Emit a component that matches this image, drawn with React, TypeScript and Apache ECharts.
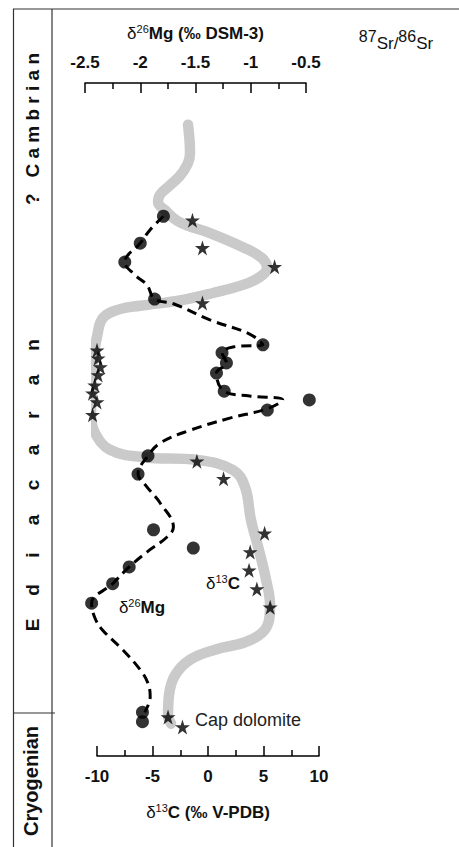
import React, { useEffect, useRef } from "react";
import * as echarts from "echarts";

// δ13C smoothed trend [δ13C ‰, stratigraphic height]
const carbonCurve: [number, number][] = [
  [-1.8, 93.8], [-1.62, 89.6], [-2.25, 86.8], [-3.42, 84.8], [-4.32, 83.4], [-4.5, 82.3],
  [-3.87, 81.1], [-2.52, 79.3], [0.18, 77.7], [3.15, 75.6], [4.86, 74.0], [5.32, 72.5],
  [4.68, 71.2], [3.15, 70.0], [0.45, 68.8], [-2.52, 67.7], [-6.13, 66.9], [-7.93, 66.4],
  [-9.46, 65.1], [-10.0, 62.3], [-10.36, 58.8], [-10.54, 54.4], [-10.54, 50.7], [-10.18, 48.0],
  [-8.83, 45.5], [-5.86, 44.4], [-0.99, 44.0], [2.25, 42.5], [3.33, 40.0], [3.87, 35.1],
  [4.59, 30.6], [5.23, 26.2], [5.59, 22.4], [5.5, 20.2], [4.86, 18.3], [3.33, 16.9],
  [0.63, 15.8], [-1.62, 14.3], [-2.97, 12.0], [-3.51, 9.1], [-3.6, 6.1], [-3.33, 4.8],
];

// δ13C measurements (stars)
const carbonPoints: [number, number][] = [
  [-1.4, 79.6], [-0.5, 75.5], [6.0, 72.7], [-0.5, 67.3],
  [-10.0, 60.3], [-9.9, 59.1], [-9.7, 57.8], [-9.9, 56.6], [-10.2, 55.1], [-10.4, 53.9],
  [-10.0, 52.6], [-10.4, 50.7], [-1.0, 43.8], [1.4, 41.2], [5.1, 33.1], [3.8, 30.3],
  [3.7, 27.6], [4.4, 24.8], [5.6, 22.1], [-3.6, 5.8], [-2.3, 4.3],
];

// δ26Mg trend (dashed)
const magnesiumCurve: [number, number][] = [
  [-1.79, 80.2], [-1.91, 78.2], [-2.0, 76.2], [-2.14, 73.4], [-2.05, 71.5], [-1.94, 70.0],
  [-1.87, 67.9], [-1.7, 67.2], [-1.37, 64.8], [-1.01, 62.7], [-0.89, 61.1], [-1.15, 60.8],
  [-1.26, 59.9], [-1.22, 58.4], [-1.31, 56.9], [-1.24, 54.2], [-1.01, 53.5], [-0.71, 52.9],
  [-0.85, 51.6], [-1.19, 50.2], [-1.55, 48.4], [-1.82, 46.5], [-1.93, 44.6], [-2.02, 41.9],
  [-1.94, 40.0], [-1.82, 37.6], [-1.7, 34.0], [-1.76, 32.5], [-1.94, 30.3], [-2.1, 28.1],
  [-2.25, 25.6], [-2.44, 22.7], [-2.41, 20.5], [-2.34, 18.7], [-2.16, 15.8], [-2.0, 12.8],
  [-1.93, 10.8], [-1.91, 8.8], [-1.96, 6.5],
];

// δ26Mg measurements (circles)
const magnesiumPoints: [number, number][] = [
  [-1.79, 80.2], [-2.0, 76.2], [-2.14, 73.4], [-1.87, 67.9], [-0.89, 61.1], [-1.26, 59.9],
  [-1.22, 58.4], [-1.31, 56.9], [-1.24, 54.2], [-0.47, 52.9], [-0.85, 51.4], [-1.93, 44.6],
  [-2.02, 41.9], [-1.88, 33.6], [-1.52, 30.9], [-2.1, 28.1], [-2.25, 25.6], [-2.44, 22.7],
  [-1.98, 6.5], [-1.98, 5.1],
];

// 87Sr/86Sr values and their heights
const srLabels = ["0.7083", "0.7085", "07080", "0.7076", "0.7073", "0.7073"];
const srHeights = [80.2, 64.3, 48.4, 38.6, 26.3, 10.1];
const srColumnX = 15.05; // label column on δ13C scale

const FONT = "'Liberation Sans', Arial, sans-serif";
const STAR =
  "path://M50,0 L61.23,34.55 L97.55,34.55 L68.17,55.9 L79.39,90.45 L50,69.1 L20.61,90.45 L31.83,55.9 L2.45,34.55 L38.77,34.55 Z";

const GRID_TOP = 83;
const GRID_H = 673;

export default function App() {
  const ref = useRef<HTMLDivElement>(null);
  useEffect(() => {
    if (!ref.current) return;
    const chart = echarts.init(ref.current, undefined, { renderer: "svg" });

    const axisCommon = (min: number, max: number, interval: number) => ({
      type: "value" as const,
      min,
      max,
      interval,
      axisLine: { show: true, onZero: false, lineStyle: { color: "#000", width: 1.5 } },
      axisTick: { show: true, inside: true, length: 10, lineStyle: { color: "#000", width: 1.5 } },
      minorTick: { show: true, splitNumber: 2, length: 6, lineStyle: { color: "#000", width: 1.5 } },
      splitLine: { show: false },
      minorSplitLine: { show: false },
      axisLabel: { fontSize: 17, fontWeight: "bold" as const, color: "#111", fontFamily: FONT, margin: 12 },
      nameLocation: "middle" as const,
    });

    const nameRich = {
      d: { fontSize: 17, fontFamily: FONT, color: "#111", lineHeight: 20 },
      s: { fontSize: 11, fontFamily: FONT, color: "#111", verticalAlign: "top", lineHeight: 12 },
      b: { fontSize: 17, fontFamily: FONT, fontWeight: "bold", color: "#111", lineHeight: 20 },
    };

    const ediacaran = "Ediacaran".split("");
    const ediTop = 345;
    const ediBottom = 625;
    const ediLetters = ediacaran.map((ch, i) => ({
      type: "text",
      x: 32,
      y: ediBottom - (i * (ediBottom - ediTop)) / (ediacaran.length - 1),
      rotation: Math.PI / 2,
      style: { text: ch, font: `bold 19px ${FONT}`, fill: "#111", align: "center", verticalAlign: "middle" },
    }));

    const line = (x1: number, y1: number, x2: number, y2: number) => ({
      type: "line",
      shape: { x1, y1, x2, y2 },
      style: { stroke: "#333", lineWidth: 1.2 },
    });

    const smallRich = {
      d: { fontSize: 17, fontFamily: FONT, fill: "#111", lineHeight: 20 },
      s: { fontSize: 11, fontFamily: FONT, fill: "#111", verticalAlign: "top", lineHeight: 12 },
      b: { fontSize: 17, fontFamily: FONT, fontWeight: "bold", fill: "#111", lineHeight: 20 },
    };

    chart.setOption({
      animation: false,
      backgroundColor: "#fff",
      grid: [
        { left: 85, top: GRID_TOP, width: 221, height: GRID_H },
        { left: 97, top: GRID_TOP, width: 222, height: GRID_H },
      ],
      xAxis: [
        {
          ...axisCommon(-2.5, -0.5, 0.5),
          gridIndex: 0,
          position: "top",
          name: "{d|δ}{s|26}{b|Mg (‰ DSM-3)}",
          nameGap: 40,
          nameTextStyle: { rich: nameRich },
        },
        {
          ...axisCommon(-10, 10, 5),
          gridIndex: 1,
          position: "bottom",
          name: "{d|δ}{s|13}{b|C (‰ V-PDB)}",
          nameGap: 46,
          nameTextStyle: { rich: nameRich },
        },
      ],
      yAxis: [
        { type: "value", gridIndex: 0, min: 0, max: 100, show: false },
        { type: "value", gridIndex: 1, min: 0, max: 100, show: false },
      ],
      series: [
        {
          type: "line",
          xAxisIndex: 1,
          yAxisIndex: 1,
          data: carbonCurve,
          smooth: 0.4,
          symbol: "none",
          clip: false,
          lineStyle: { color: "#cacaca", width: 10.5, cap: "round", join: "round" },
          z: 1,
        },
        {
          type: "line",
          xAxisIndex: 0,
          yAxisIndex: 0,
          data: magnesiumCurve,
          smooth: 0.4,
          symbol: "none",
          clip: false,
          lineStyle: { color: "#000", width: 3, type: [10, 6] },
          z: 2,
        },
        {
          type: "scatter",
          xAxisIndex: 0,
          yAxisIndex: 0,
          data: magnesiumPoints,
          symbol: "circle",
          symbolSize: 13,
          clip: false,
          itemStyle: { color: "#000" },
          z: 3,
        },
        {
          type: "scatter",
          xAxisIndex: 1,
          yAxisIndex: 1,
          data: carbonPoints,
          symbol: STAR,
          symbolSize: 15,
          clip: false,
          itemStyle: { color: "#000" },
          z: 3,
        },
        {
          type: "scatter",
          xAxisIndex: 1,
          yAxisIndex: 1,
          data: srLabels.map((t, i) => ({ value: [srColumnX, srHeights[i]], name: t })),
          symbolSize: 1,
          clip: false,
          itemStyle: { opacity: 0 },
          label: {
            show: true,
            position: "right",
            distance: 0,
            formatter: (p: any) => p.name,
            fontFamily: FONT,
            fontSize: 17,
            fontWeight: "bold",
            fontStyle: "italic",
            color: "#222",
          },
          z: 4,
        },
      ],
      graphic: [
        line(13, 9, 459, 9),
        line(13.5, 9, 13.5, 847),
        line(52, 9, 52, 847),
        line(13, 713, 55, 713),
        {
          type: "text",
          x: 32,
          y: 129,
          rotation: Math.PI / 2,
          style: { text: "?   C a m b r i a n", font: `bold 19px ${FONT}`, fill: "#111", align: "center", verticalAlign: "middle" },
        },
        ...ediLetters,
        {
          type: "text",
          x: 31,
          y: 781,
          rotation: Math.PI / 2,
          style: { text: "Cryogenian", font: `bold 20px ${FONT}`, fill: "#111", align: "center", verticalAlign: "middle" },
        },
        {
          type: "text",
          x: 396,
          y: 40,
          style: {
            text: "{s|87}{n|Sr/}{s|86}{n|Sr}",
            align: "center",
            verticalAlign: "middle",
            rich: {
              s: { fontSize: 16, fontFamily: FONT, fill: "#111", verticalAlign: "top", lineHeight: 14 },
              n: { fontSize: 17, fontFamily: FONT, fill: "#111", verticalAlign: "bottom", lineHeight: 24 },
            },
          },
        },
        {
          type: "text",
          x: 223,
          y: 583,
          style: { text: "{d|δ}{s|13}{b|C}", align: "center", verticalAlign: "middle", rich: smallRich },
        },
        {
          type: "text",
          x: 142,
          y: 607,
          style: { text: "{d|δ}{s|26}{b|Mg}", align: "center", verticalAlign: "middle", rich: smallRich },
        },
        {
          type: "text",
          x: 195,
          y: 720,
          style: { text: "Cap dolomite", font: `18px ${FONT}`, fill: "#222", align: "left", verticalAlign: "middle" },
        },
      ],
    });
    return () => chart.dispose();
  }, []);
  return (
    <div
      ref={ref}
      style={{ position: "absolute", left: 0, top: 0, width: 459, height: 847, background: "#fff" }}
    />
  );
}
